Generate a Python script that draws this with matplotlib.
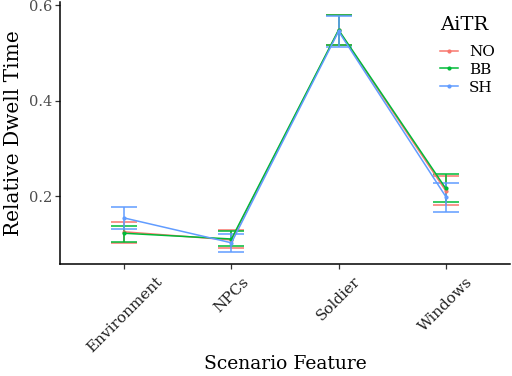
import numpy as np
import matplotlib
matplotlib.use("Agg")
import matplotlib.pyplot as plt
from matplotlib.lines import Line2D

# data
features = ["Environment", "NPCs", "Soldier", "Windows"]
groups = ["NO", "BB", "SH"]
colors = ["#F8766D", "#00BA38", "#619CFF"]

no_mean = [0.125, 0.108, 0.547, 0.211]
no_lo = [0.102, 0.091, 0.516, 0.181]
no_hi = [0.146, 0.129, 0.580, 0.243]

bb_mean = [0.122, 0.110, 0.548, 0.216]
bb_lo = [0.104, 0.095, 0.516, 0.187]
bb_hi = [0.137, 0.127, 0.579, 0.246]

sh_mean = [0.154, 0.102, 0.545, 0.199]
sh_lo = [0.131, 0.083, 0.512, 0.167]
sh_hi = [0.177, 0.120, 0.577, 0.228]

means = [no_mean, bb_mean, sh_mean]
los = [no_lo, bb_lo, sh_lo]
his = [no_hi, bb_hi, sh_hi]

plt.rcParams["font.family"] = ["DejaVu Serif"]

fig = plt.figure(figsize=(5.12, 3.76), dpi=100)
ax = fig.add_axes([60 / 512, 1 - 264 / 376, 450 / 512, 262 / 376])

x = np.arange(1, len(features) + 1)
handles = []
for g, c, m, lo, hi in zip(groups, colors, means, los, his):
    m = np.array(m)
    err = [m - np.array(lo), np.array(hi) - m]
    ax.errorbar(x, m, yerr=err, color=c, lw=1.1, marker="o", ms=2,
                capsize=9.7, capthick=1.1, elinewidth=1.1)
    handles.append(Line2D([], [], color=c, lw=1.1, marker="o", ms=2, label=g))

ax.set_xlim(0.4, 4.6)
ax.set_ylim(0.0576, 0.6065)
ax.set_yticks([0.2, 0.4, 0.6])
ax.set_yticklabels(["0.2", "0.4", "0.6"])
ax.set_xticks(x)
ax.set_xticklabels(features, rotation=45, ha="center")

for s in ["top", "right"]:
    ax.spines[s].set_visible(False)
for s in ["left", "bottom"]:
    ax.spines[s].set_linewidth(1.1)
    ax.spines[s].set_color("black")
ax.tick_params(length=3.5, width=0.9, color="#333333", labelcolor="#4D4D4D",
               labelsize=10.5, pad=2)
ax.tick_params(axis="x", labelcolor="#222222", labelsize=11, pad=4)

ax.set_xlabel("Scenario Feature", fontsize=13.5, labelpad=0)
ax.set_ylabel("Relative Dwell Time", fontsize=14.5, labelpad=4)

# legend title placed separately to get the ggplot-like gap
ax.text(380 / 450, 1 - 23 / 262, "AiTR", transform=ax.transAxes,
        fontsize=14, va="center", ha="left")
leg = ax.legend(handles=handles, loc="upper left",
                bbox_to_anchor=(380 / 450, 1 - 43 / 262), frameon=False,
                fontsize=11, handlelength=1.2, handletextpad=0.7,
                labelspacing=0.25, borderpad=0, borderaxespad=0)

fig.savefig("out.png", dpi=100)
